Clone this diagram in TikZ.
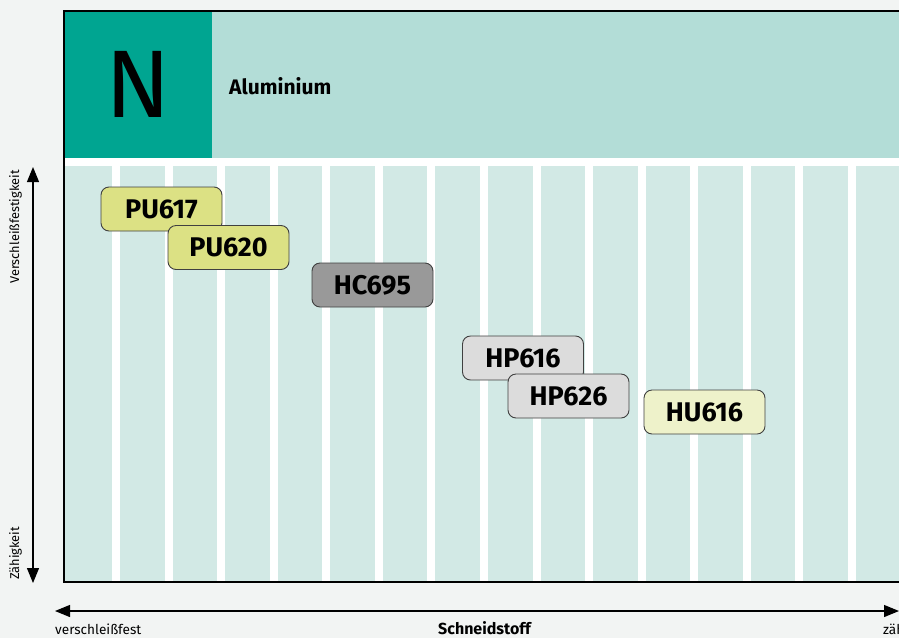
\documentclass[tikz,border=0pt]{standalone}
\usepackage{fontspec}
\setmainfont{Fira Sans}
\usetikzlibrary{arrows.meta, positioning}
\definecolor{bgGray}{HTML}{F2F4F3}
\definecolor{tealDark}{HTML}{00A591}
\definecolor{tealBand}{HTML}{B3DDD7}
\definecolor{tealLight}{HTML}{D2E9E5}
\definecolor{gradePU}{HTML}{DCE184}
\definecolor{gradeHU}{HTML}{EEF2CA}
\definecolor{gradeHP}{HTML}{DCDCDC}
\definecolor{gradeHC}{HTML}{999999}
\tikzset{
    grade/.style={rectangle, rounded corners=8pt, draw=black!75, line width=0.9pt, minimum width=121pt, minimum height=44pt, inner sep=0pt, font=\fontsize{27}{27}\selectfont\bfseries},
    axislabel/.style={inner sep=0pt, font=\fontsize{12.8}{12.8}\selectfont},
    axisarrow/.style={{Triangle[length=15pt,width=12pt]}-{Triangle[length=15pt,width=12pt]}, line width=1.2pt},
    column/.style={fill=white},
}

\begin{document}
\begin{tikzpicture}[x=1pt, y=-1pt]
    \useasboundingbox (0,0) rectangle (899,638);
    \clip (0,0) rectangle (899,638);
    \fill[bgGray] (0,0) rectangle (899,638);

    % Header
    \fill[tealBand] (212,11) rectangle (910,158);
    \node[fill=tealDark, anchor=north west, minimum width=148pt, minimum height=147pt, inner sep=0pt, font=\fontsize{96}{96}\selectfont] (nbox) at (64,11) {N};
    \node[anchor=base west, inner sep=0pt, font=\fontsize{21}{21}\selectfont\bfseries] (material) at (229,94) {Aluminium};

    % Stripes
    \fill[white] (64,158) rectangle (910,166);
    \fill[tealLight] (64,166) rectangle (910,582);
    \foreach \i in {0,...,14}
        \fill[column] ({112+52.57*\i},166) rectangle ({120+52.57*\i},582);
    \draw[line width=1.5pt] (64,11) rectangle (910,582);

    % Grades
    \node[grade, fill=gradePU] (pu617) at (161.5,209) {PU617};
    \node[grade, fill=gradePU] (pu620) at (228.5,247.5) {PU620};
    \node[grade, fill=gradeHC] (hc695) at (372.5,285) {HC695};
    \node[grade, fill=gradeHP] (hp616) at (523,358) {HP616};
    \node[grade, fill=gradeHP] (hp626) at (568.5,396) {HP626};
    \node[grade, fill=gradeHU] (hu616) at (704.5,412) {HU616};

    % Axes
    \coordinate (vtop) at (33,167);
    \coordinate (vbot) at (33,583);
    \coordinate (hleft) at (55,611);
    \coordinate (hright) at (899,611);
    \draw[axisarrow] (vtop) -- (vbot);
    \draw[axisarrow] (hleft) -- (hright);

    \node[axislabel, rotate=90, anchor=base east] (wear) at (19,170) {Verschleißfestigkeit};
    \node[axislabel, rotate=90, anchor=base west] (tough) at (19,580) {Zähigkeit};
    \node[axislabel, anchor=base west, font=\fontsize{13.6}{13.6}\selectfont] (wearx) at (55,634) {verschleißfest};
    \node[axislabel, anchor=base, font=\fontsize{16}{16}\selectfont\bfseries] (cutmat) at (484.5,634) {Schneidstoff};
    \node[axislabel, anchor=base west, font=\fontsize{13.6}{13.6}\selectfont] (toughx) at (883,634) {zähigkeit};
\end{tikzpicture}
\end{document}
